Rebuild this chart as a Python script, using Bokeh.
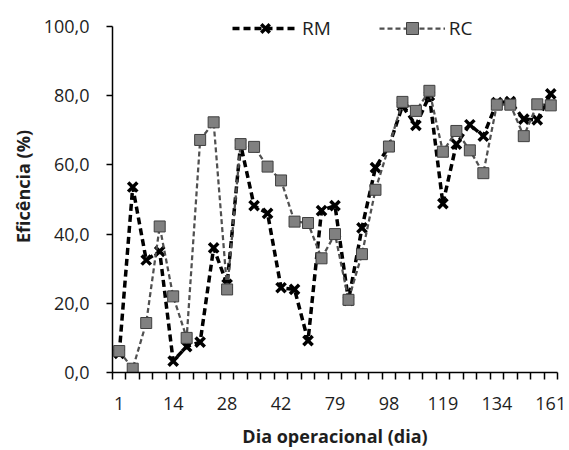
from bokeh.plotting import figure
from bokeh.models import Range1d, FixedTicker, Legend, LegendItem
from bokeh.embed import file_html
from bokeh.resources import INLINE

# ---- data ----
days = [1, 4, 7, 10, 14, 17, 21, 24, 28, 31, 35, 38, 42, 45, 49, 56, 79,
        84, 88, 93, 98, 101, 105, 112, 119, 122, 126, 130, 134, 140, 147, 154, 161]
rm = [5.5, 53.6, 32.5, 35.0, 3.3, 7.5, 8.8, 36.0, 25.5, 66.0, 48.2, 46.0, 24.5,
      24.0, 9.2, 46.8, 48.2, 20.8, 41.8, 59.2, 65.3, 77.0, 71.4, 80.0, 48.8,
      66.0, 71.6, 68.3, 78.0, 78.3, 73.2, 73.0, 80.5]
rc = [6.2, 1.1, 14.3, 42.2, 22.0, 10.0, 67.2, 72.3, 24.0, 66.0, 65.2, 59.5, 55.5,
      43.6, 43.2, 33.0, 40.0, 21.0, 34.2, 52.8, 65.3, 78.2, 75.6, 81.4, 63.8,
      69.8, 64.2, 57.6, 77.4, 77.4, 68.3, 77.5, 77.2]
label_every = 4
y_ticks = [0, 20, 40, 60, 80, 100]
y_labels = ["0,0", "20,0", "40,0", "60,0", "80,0", "100,0"]

FONT = "Open Sans"
TXT = "#1e1e1e"

xs = list(range(len(days)))

p = figure(width=569, height=450, output_backend="svg", toolbar_location=None,
           x_range=Range1d(-0.5, len(days) - 0.5), y_range=Range1d(0, 107.5),
           min_border_left=112, min_border_right=12, min_border_top=0,
           min_border_bottom=78)
p.outline_line_color = None
p.xgrid.visible = False
p.ygrid.visible = False

# x axis
xax = p.xaxis[0]
xax.ticker = FixedTicker(ticks=xs[::label_every],
                         minor_ticks=[i - 0.5 for i in range(len(days) + 1)])
xax.major_label_overrides = {i: str(days[i]) for i in xs[::label_every]}
xax.major_tick_out = 0
xax.major_tick_in = 0
xax.minor_tick_out = 7
xax.minor_tick_in = 0
xax.minor_tick_line_color = "black"
xax.minor_tick_line_width = 1.5
xax.axis_line_color = "black"
xax.axis_line_width = 1.5
xax.major_label_standoff = 17
xax.major_label_text_font = FONT
xax.major_label_text_font_size = "18px"
xax.major_label_text_color = TXT
xax.axis_label = "Dia operacional (dia)"
xax.axis_label_standoff = 11
xax.axis_label_text_font = FONT
xax.axis_label_text_font_size = "18px"
xax.axis_label_text_font_style = "bold"
xax.axis_label_text_color = TXT

# y axis
yax = p.yaxis[0]
yax.ticker = FixedTicker(ticks=y_ticks, minor_ticks=[])
yax.bounds = (0, 100)
yax.major_label_overrides = {t: l for t, l in zip(y_ticks, y_labels)}
yax.major_tick_out = 6
yax.major_tick_in = 0
yax.major_tick_line_color = "black"
yax.major_tick_line_width = 1.5
yax.axis_line_color = "black"
yax.axis_line_width = 1.5
yax.major_label_standoff = 17
yax.major_label_text_font = FONT
yax.major_label_text_font_size = "18px"
yax.major_label_text_color = TXT
yax.axis_label = "Eficência (%)"
yax.axis_label_standoff = 6
yax.axis_label_text_font = FONT
yax.axis_label_text_font_size = "18px"
yax.axis_label_text_font_style = "bold"
yax.axis_label_text_color = TXT

# series
rm_line = p.line(xs, rm, line_color="black", line_width=3.5, line_dash="7 4")
rm_pts = p.scatter(xs, rm, marker="x", size=13, line_color="black", line_width=3.5)
rc_line = p.line(xs, rc, line_color="#505050", line_width=2.25, line_dash="5 3")
rc_pts = p.scatter(xs, rc, marker="square", size=11, fill_color="#808080",
                   line_color="#3f3f3f", line_width=1)

legend = Legend(items=[LegendItem(label="RM", renderers=[rm_line, rm_pts]),
                       LegendItem(label="RC", renderers=[rc_line, rc_pts])],
                location=(120, 329), orientation="horizontal",
                glyph_width=66, glyph_height=30, label_standoff=4, spacing=48,
                padding=0, margin=0, border_line_color=None,
                background_fill_alpha=0,
                label_text_font=FONT, label_text_font_size="19px",
                label_text_color=TXT)
p.add_layout(legend, "center")

open("out.html", "w").write(file_html(p, INLINE))
